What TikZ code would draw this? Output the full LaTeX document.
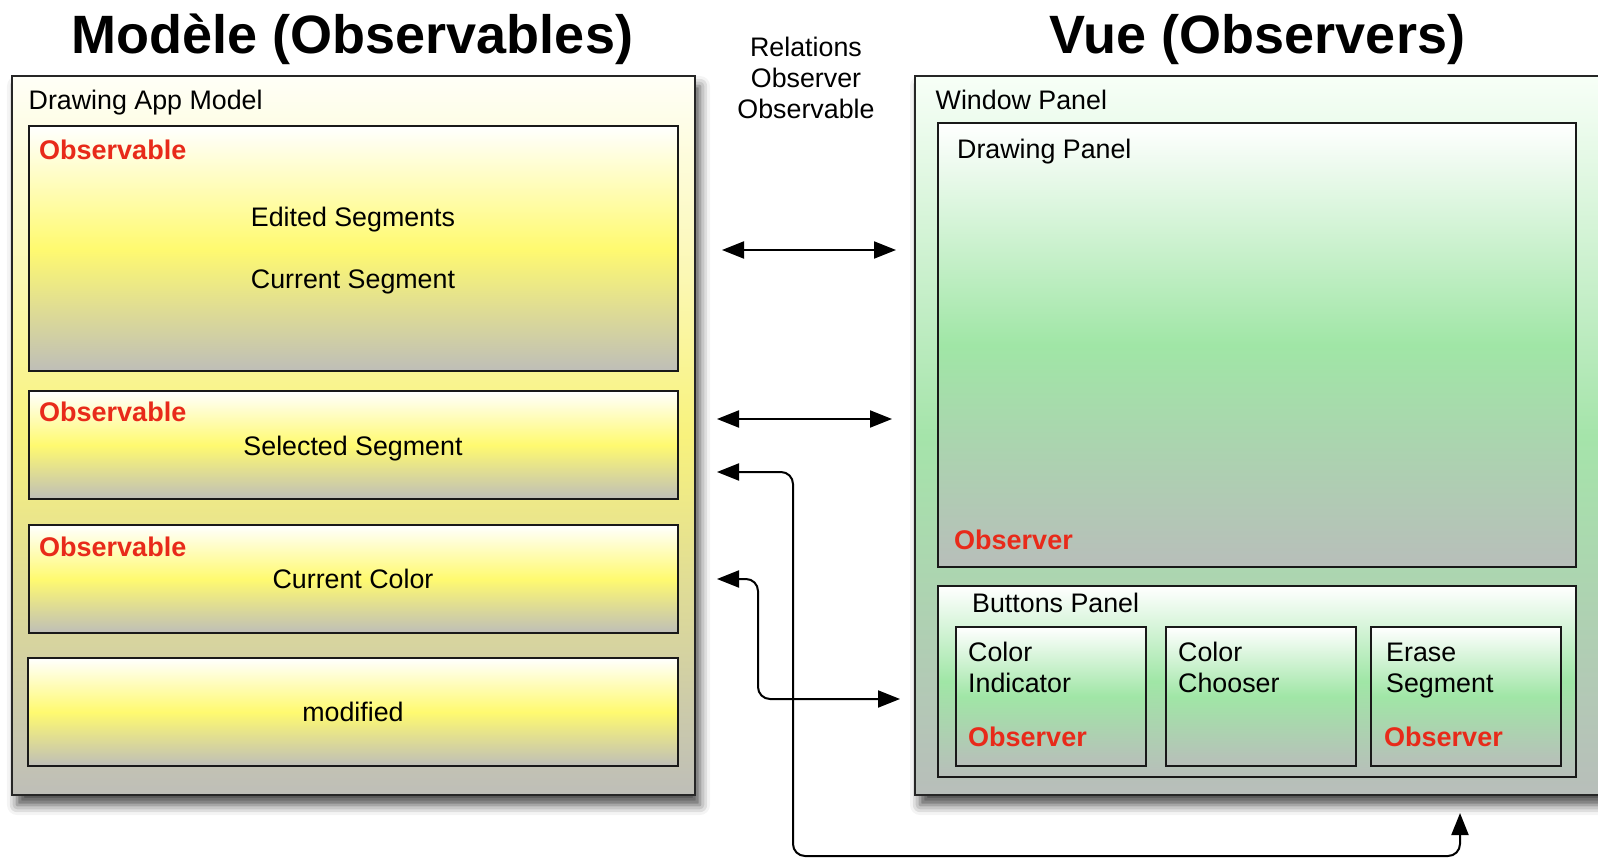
\documentclass[tikz,border=0pt]{standalone}
\usepackage{fontspec}
\setmainfont{Liberation Sans}
\usetikzlibrary{arrows.meta,shadows.blur}
\definecolor{obsred}{RGB}{232,42,26}
\definecolor{ylw}{RGB}{255,250,112}
\definecolor{ylwout}{RGB}{248,242,125}
\definecolor{greyb}{RGB}{190,190,184}
\definecolor{grn}{RGB}{160,230,166}
\definecolor{grnout}{RGB}{165,228,170}
\definecolor{greyg}{RGB}{184,190,186}
\tikzset{
  basebox/.style={rectangle, inner sep=0pt, outer sep=0pt, anchor=north west},
  outerbox/.style={basebox, draw=black!85, line width=2.5pt,
    blur shadow={shadow xshift=5pt, shadow yshift=-10pt, shadow blur radius=10pt, shadow opacity=70}},
  yout/.style={outerbox, top color=white!97!yellow, bottom color=greyb, middle color=ylwout},
  gout/.style={outerbox, top color=white!97!green, bottom color=greyg, middle color=grnout},
  innerbox/.style={basebox, draw=black!90, line width=2pt},
  ybox/.style={innerbox, top color=white, bottom color=greyb, middle color=ylw},
  gbox/.style={innerbox, top color=white, bottom color=greyg, middle color=grn},
  txt/.style={inner sep=0pt, anchor=base west, font=\fontsize{26.8}{31}\selectfont},
  ctxt/.style={txt, anchor=base},
  redtxt/.style={txt, text=obsred, font=\fontsize{27}{31}\selectfont\bfseries},
  title/.style={inner sep=0pt, anchor=base, font=\fontsize{54}{60}\selectfont\bfseries},
  conn/.style={line width=2pt, rounded corners=12pt,
    {Triangle[length=22pt,width=17pt]}-{Triangle[length=22pt,width=17pt]}}
}
\begin{document}
\begin{tikzpicture}[x=1pt,y=-1pt]
\useasboundingbox (0,0) rectangle (1598,858);
\clip (0,0) rectangle (1598,858);

% titles
\node[title] (tmodel) at (352.5,53.5) {Modèle (Observables)};
\node[title] (tvue) at (1257.5,53.5) {Vue (Observers)};
\node[ctxt] (rel1) at (806,56.5) {Relations};
\node[ctxt] (rel2) at (806,87.5) {Observer};
\node[ctxt] (rel3) at (806,119) {Observable};

% left: model
\node[yout, minimum width=683pt, minimum height=719pt] (model) at (12,76) {};
\node[txt] (modellbl) at (28.5,110) {Drawing App Model};

\node[ybox, minimum width=649.5pt, minimum height=245pt] (edited) at (28.5,126) {};
\node[redtxt] (obs1) at (39,160) {Observable};
\node[ctxt] (editedlbl) at (353,226.5) {Edited Segments};
\node[ctxt] (currentlbl) at (353,289) {Current Segment};

\node[ybox, minimum width=649.5pt, minimum height=108pt] (selected) at (28.5,391) {};
\node[redtxt] (obs2) at (39,421) {Observable};
\node[ctxt] (selectedlbl) at (353,455) {Selected Segment};

\node[ybox, minimum width=649.5pt, minimum height=108pt] (color) at (28.5,525) {};
\node[redtxt] (obs3) at (39,556) {Observable};
\node[ctxt] (colorlbl) at (353,588) {Current Color};

\node[ybox, minimum width=649.5pt, minimum height=108pt] (modified) at (28,658) {};
\node[ctxt] (modifiedlbl) at (353,721) {modified};

% right: view
\node[gout, minimum width=700pt, minimum height=719pt] (window) at (915,76) {};
\node[txt] (windowlbl) at (935.5,110) {Window Panel};

\node[gbox, minimum width=638pt, minimum height=444pt] (drawing) at (938,123) {};
\node[txt] (drawinglbl) at (957,159) {Drawing Panel};
\node[redtxt] (obs4) at (954,549) {Observer};

\node[gbox, minimum width=638pt, minimum height=191pt] (buttons) at (938,586) {};
\node[txt] (buttonslbl) at (972,612) {Buttons Panel};

\node[gbox, minimum width=190pt, minimum height=139pt] (indicator) at (956,627) {};
\node[txt] (ind1) at (968,661) {Color};
\node[txt] (ind2) at (968,692.5) {Indicator};
\node[redtxt] (obs5) at (968,746) {Observer};

\node[gbox, minimum width=190pt, minimum height=139pt] (chooser) at (1166,627) {};
\node[txt] (ch1) at (1178,661) {Color};
\node[txt] (ch2) at (1178,692.5) {Chooser};

\node[gbox, minimum width=190pt, minimum height=139pt] (erase) at (1371,627) {};
\node[txt] (er1) at (1386,661) {Erase};
\node[txt] (er2) at (1386,692.5) {Segment};
\node[redtxt] (obs6) at (1384,746) {Observer};

% connectors
\coordinate (a1l) at (722,250);
\coordinate (a1r) at (896,250);
\coordinate (a2l) at (717,419);
\coordinate (a2r) at (892,419);
\coordinate (a3l) at (717,472);
\coordinate (a3b) at (793,856);
\coordinate (a3u) at (1460,813);
\coordinate (a4l) at (717,579);
\coordinate (a4r) at (900,699);

\draw[conn] (a1l) -- (a1r);
\draw[conn] (a2l) -- (a2r);
\draw[conn] (a3l) -| (a3b) -| (a3u);
\draw[conn] (a4l) -- ++(41,0) |- (a4r);
\end{tikzpicture}
\end{document}
